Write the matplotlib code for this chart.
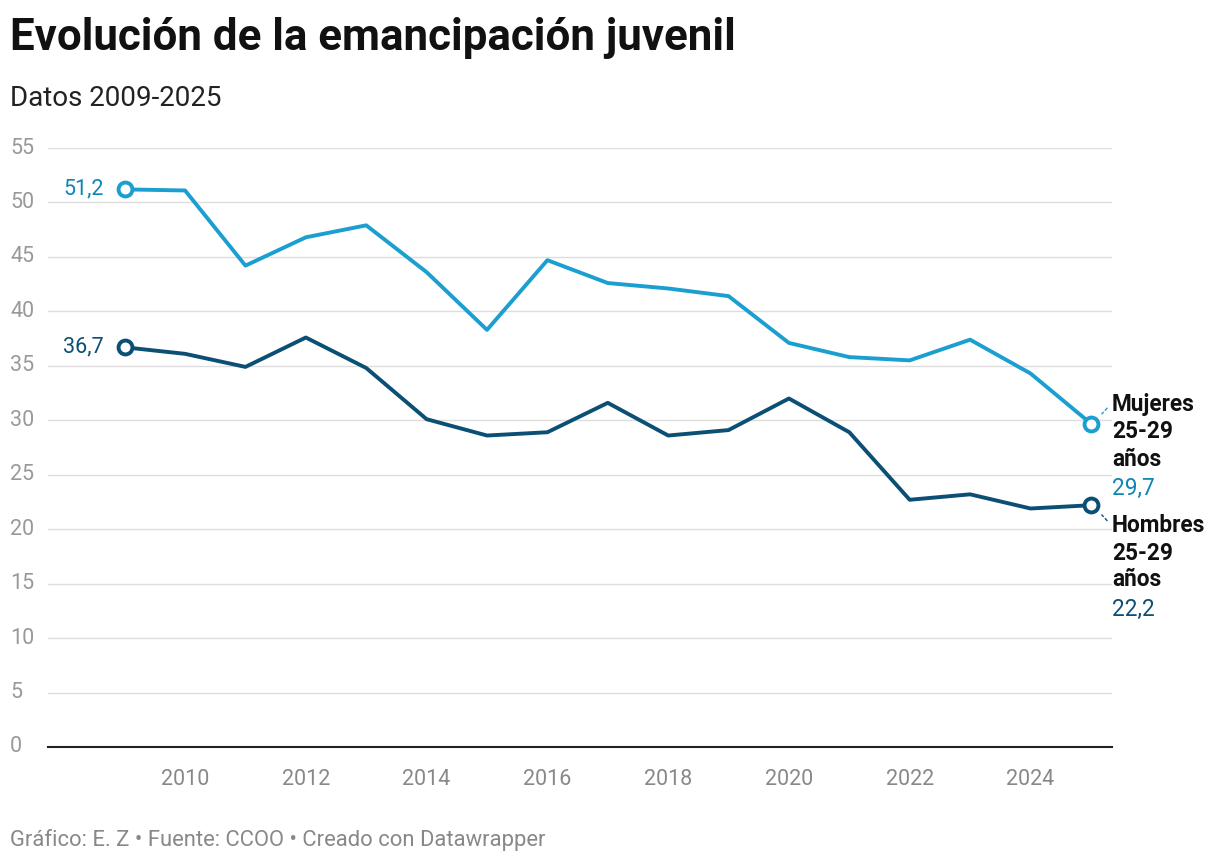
import matplotlib
matplotlib.use("Agg")
import matplotlib.pyplot as plt

plt.rcParams['font.family'] = ['Roboto', 'DejaVu Sans']

years = list(range(2009, 2026))
mujeres = [51.2, 51.1, 44.2, 46.8, 47.9, 43.6, 38.3, 44.7, 42.6, 42.1, 41.4, 37.1, 35.8, 35.5, 37.4, 34.3, 29.7]
hombres = [36.7, 36.1, 34.9, 37.6, 34.8, 30.1, 28.6, 28.9, 31.6, 28.6, 29.1, 32.0, 28.9, 22.7, 23.2, 21.9, 22.2]
yticks = list(range(0, 60, 5))
xticks = list(range(2010, 2026, 2))

c_m = '#1b9fd0'
c_h = '#0b4f75'
c_mt = '#0e86b3'

W, H = 1220, 864
fig = plt.figure(figsize=(W/100, H/100), dpi=100)
ax = fig.add_axes([48/W, 1-747/H, (1112-48)/W, (747-148)/H])
ax.set_xlim(2007.73, 2025.35)
ax.set_ylim(0, 55)

ax.plot(years, mujeres, color=c_m, lw=2.8, solid_joinstyle='round')
ax.plot(years, hombres, color=c_h, lw=2.8, solid_joinstyle='round')
for s, c in ((mujeres, c_m), (hombres, c_h)):
    ax.plot([years[0], years[-1]], [s[0], s[-1]], 'o', ms=10, mfc='white', mec=c, mew=2.8, zorder=5)

ax.set_yticks(yticks)
ax.set_yticklabels([])
for v in yticks:
    ax.text(-38/(1112-48), v, str(v), transform=ax.get_yaxis_transform(),
            fontsize=15.5, color='#999999', ha='left', va='center')
ax.set_xticks(xticks)
ax.grid(axis='y', color='#dddddd', lw=1)
ax.set_axisbelow(True)
for s in ['top', 'right', 'left']:
    ax.spines[s].set_visible(False)
ax.spines['bottom'].set_color('#222222')
ax.spines['bottom'].set_linewidth(1.5)
ax.tick_params(axis='y', length=0)
ax.tick_params(axis='x', length=0, labelsize=15.5, labelcolor='#888888', pad=16)

ax.text(2008.65, mujeres[0], '51,2', color=c_mt, fontsize=15.5, ha='right', va='center')
ax.text(2008.65, hombres[0], '36,7', color=c_h, fontsize=15.5, ha='right', va='center')

ax.annotate('', xy=(2025.15, mujeres[-1]+0.7), xytext=(2025.3, 31.3),
            arrowprops=dict(arrowstyle='-', color=c_m, ls=(0, (2, 2)), lw=1))
ax.annotate('', xy=(2025.15, hombres[-1]-0.7), xytext=(2025.3, 20.6),
            arrowprops=dict(arrowstyle='-', color=c_h, ls=(0, (2, 2)), lw=1))

def lbl(y, t, c, bold):
    fig.text(1112/W, 1-y/H, t, fontsize=16.3, fontweight='bold' if bold else 'normal', color=c, va='center')

lbl(405, 'Mujeres', '#111111', True)
lbl(432, '25-29', '#111111', True)
lbl(459, 'años', '#111111', True)
lbl(488, '29,7', c_mt, False)
lbl(526, 'Hombres', '#111111', True)
lbl(553, '25-29', '#111111', True)
lbl(580, 'años', '#111111', True)
lbl(609, '22,2', c_h, False)

fig.text(10/W, 1-38/H, 'Evolución de la emancipación juvenil', fontsize=31.6, fontweight='bold', color='#111111', va='center')
fig.text(10/W, 1-98/H, 'Datos 2009-2025', fontsize=20, color='#222222', va='center')
fig.text(10/W, 1-840/H, 'Gráfico: E. Z • Fuente: CCOO • Creado con Datawrapper', fontsize=15.8, color='#888888', va='center')

fig.savefig('out.png', dpi=100, facecolor='white')
